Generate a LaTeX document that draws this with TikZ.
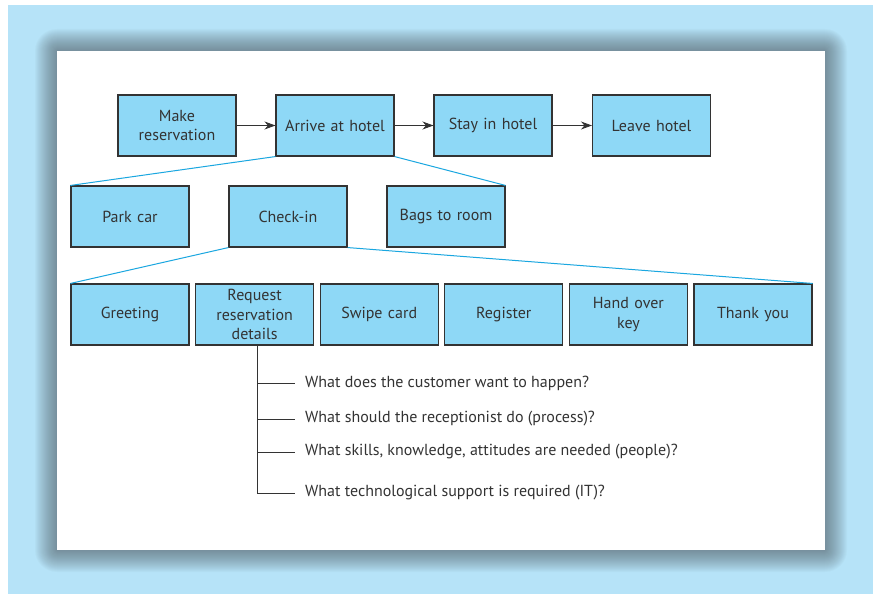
\documentclass[tikz,border=0pt]{standalone}
\usepackage{fontspec}
\setmainfont{PT Sans}
\usepackage{tikz}
\usetikzlibrary{arrows.meta,calc,positioning}
\definecolor{FrameBlue}{HTML}{B6E3F8}
\definecolor{BoxBlue}{HTML}{8ED8F6}
\definecolor{LinkBlue}{HTML}{1AA7E0}
\definecolor{InkGrey}{HTML}{333333}
\definecolor{ShadeGrey}{HTML}{4A5358}
\tikzset{
  taskbox/.style={draw=InkGrey, fill=BoxBlue, line width=1.1pt,
    minimum width=118pt, minimum height=61pt, inner sep=2pt,
    text width=112pt, align=center, text=InkGrey,
    font=\fontsize{16}{19.5}\selectfont},
  flow/.style={draw=InkGrey, line width=0.9pt, -{Stealth[length=11pt,width=8pt]}},
  split/.style={draw=LinkBlue, line width=1pt},
  twig/.style={draw=InkGrey, line width=0.9pt},
  askline/.style={anchor=west, inner sep=0pt, text=InkGrey,
    font=\fontsize{16}{19}\selectfont}
}
\begin{document}
\begin{tikzpicture}[x=1pt, y=-1pt]
  \useasboundingbox (0,0) rectangle (875,594);
  % frame and soft shadow
  \fill[FrameBlue] (8,5) rectangle (873,594);
  \foreach \r in {22,21,...,1}
    \fill[ShadeGrey, fill opacity=0.03, rounded corners=\r pt]
      (57-\r,51-\r) rectangle (825+\r,550+\r);
  \fill[white] (57,51) rectangle (825,550);

  % top level
  \node[taskbox] (make)  at (177,125.5) {Make\\reservation};
  \node[taskbox] (arrive) at (335,125.5) {Arrive at hotel};
  \node[taskbox] (stay)  at (493,125.5) {Stay in hotel};
  \node[taskbox] (leave) at (651.5,125.5) {Leave hotel};
  \draw[flow] (make) -- (arrive);
  \draw[flow] (arrive) -- (stay);
  \draw[flow] (stay) -- (leave);

  % arrival steps
  \node[taskbox] (park)  at (130,216.5) {Park car};
  \node[taskbox] (check) at (288,216.5) {Check-in};
  \node[taskbox] (bags)  at (446,216.5) {Bags to room};
  \draw[split] (arrive.south west) -- (park.north west);
  \draw[split] (arrive.south east) -- (bags.north east);

  % check-in steps
  \node[taskbox] (greet)  at (130,314.5) {Greeting};
  \node[taskbox] (request) at (254.6,314.5) {Request\\reservation\\details};
  \node[taskbox] (swipe)  at (379.2,314.5) {Swipe card};
  \node[taskbox] (register) at (503.8,314.5) {Register};
  \node[taskbox] (handkey) at (628.4,314.5) {Hand over\\key};
  \node[taskbox] (thanks) at (753,314.5) {Thank you};
  \draw[split] (check.south west) -- (greet.north west);
  \draw[split] (check.south east) -- (thanks.north east);

  % questions
  \coordinate (stem) at ($(request.south)+(3,0)$);
  \node[askline] (q1) at (305,383) {What does the customer want to happen?};
  \node[askline] (q2) at (305,419) {What should the receptionist do (process)?};
  \node[askline] (q3) at (305,452) {What skills, knowledge, attitudes are needed (people)?};
  \node[askline] (q4) at (305,493) {What technological support is required (IT)?};
  \draw[twig] (stem) |- ($(q4.west)+(-10,0)$);
  \foreach \q in {q1,q2,q3}
    \draw[twig] (stem |- \q.west) -- ($(\q.west)+(-10,0)$);
\end{tikzpicture}
\end{document}
